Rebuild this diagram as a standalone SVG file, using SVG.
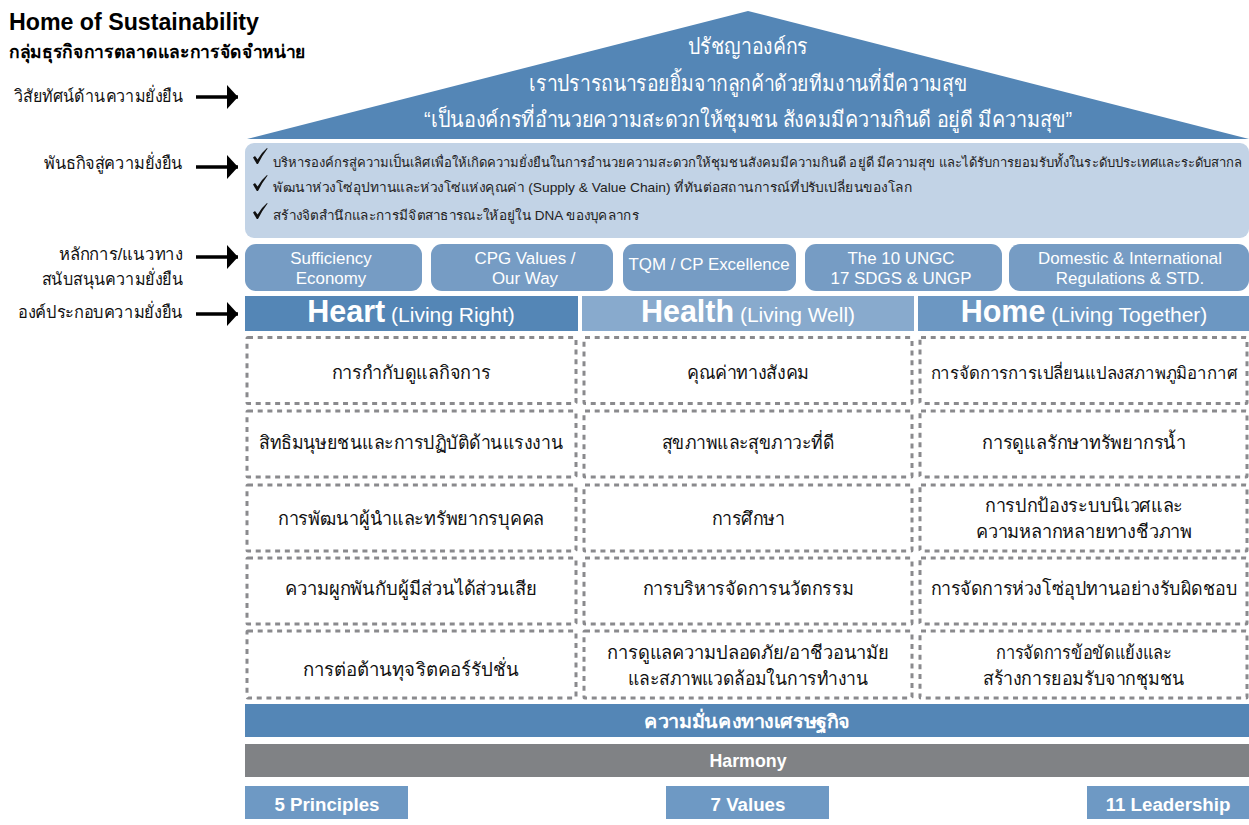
<svg xmlns="http://www.w3.org/2000/svg" width="1249" height="825" viewBox="0 0 1249 825">
<style>
text{font-family:"Liberation Sans","Noto Sans",sans-serif;}
.w{fill:#fff;text-anchor:middle}
.lab{fill:#111;font-size:17px;text-anchor:end}
.mis{fill:#222;font-size:13px}
.pill{fill:#769cc4}
.pt{fill:#fff;text-anchor:middle;font-size:16.9px}
.d{fill:#fff;stroke:#8a8a8d;stroke-width:3;stroke-dasharray:5 4.7}
.c{fill:#111;text-anchor:middle;font-size:18.5px}
.c2{font-size:17px}
.h{font-size:30.5px;font-weight:bold}
.s{font-size:21px}
.ar{stroke:#000;stroke-width:3.6;fill:none;marker-end:url(#ah)}
.bt{fill:#fff;text-anchor:middle;font-size:18.7px;font-weight:bold}
</style>
<defs>
<marker id="ah" markerUnits="userSpaceOnUse" markerWidth="12" markerHeight="26" refX="11" refY="13" orient="auto"><path d="M0 1L11 13L0 25Z" fill="#000"/></marker>
<path id="ck" d="M0 8.5L2 7L4.6 10.5Q8 4 14 -1L14.6 -.5Q9.500 6 5 15L3.800 15Z" fill="#111"/>
</defs>
<rect width="1249" height="825" fill="#fff"/>
<g id="title">
<text x="9" y="30" font-size="23.200" font-weight="bold" fill="#000">Home of Sustainability</text>
<text x="9" y="58" font-size="18" font-weight="bold" fill="#000" textLength="297" lengthAdjust="spacingAndGlyphs">กลุ่มธุรกิจการตลาดและการจัดจำหน่าย</text>
</g>
<g id="connectors">
<line class="ar" x1="196" y1="97" x2="238" y2="97"/>
<line class="ar" x1="196" y1="167" x2="238" y2="167"/>
<line class="ar" x1="196" y1="257" x2="238" y2="257"/>
<line class="ar" x1="196" y1="314" x2="238" y2="314"/>
</g>
<g id="labels">
<text class="lab" x="183" y="102" textLength="169" lengthAdjust="spacingAndGlyphs">วิสัยทัศน์ด้านความยั่งยืน</text>
<text class="lab" x="183" y="169" textLength="139" lengthAdjust="spacingAndGlyphs">พันธกิจสู่ความยั่งยืน</text>
<text class="lab" x="183" y="260" textLength="124" lengthAdjust="spacingAndGlyphs">หลักการ/แนวทาง</text>
<text class="lab" x="183" y="285" textLength="141" lengthAdjust="spacingAndGlyphs">สนับสนุนความยั่งยืน</text>
<text class="lab" x="183" y="318" textLength="165" lengthAdjust="spacingAndGlyphs">องค์ประกอบความยั่งยืน</text>
</g>
<g id="roof">
<polygon points="247,139 748,11 1249,139" fill="#5486b6"/>
<text class="w" x="748" y="54" font-size="22" textLength="120" lengthAdjust="spacingAndGlyphs">ปรัชญาองค์กร</text>
<text class="w" x="748" y="91" font-size="22" textLength="438" lengthAdjust="spacingAndGlyphs">เราปรารถนารอยยิ้มจากลูกค้าด้วยทีมงานที่มีความสุข</text>
<text class="w" x="748" y="127" font-size="22" textLength="648" lengthAdjust="spacingAndGlyphs">“เป็นองค์กรที่อำนวยความสะดวกให้ชุมชน สังคมมีความกินดี อยู่ดี มีความสุข”</text>
</g>
<g id="mission">
<rect x="245" y="143" width="1004" height="95" rx="9" fill="#c2d3e6"/>
<use href="#ck" x="253" y="149"/>
<use href="#ck" x="253" y="176"/>
<use href="#ck" x="253" y="204"/>
<text class="mis" x="273" y="167" textLength="969" lengthAdjust="spacingAndGlyphs">บริหารองค์กรสู่ความเป็นเลิศเพื่อให้เกิดความยั่งยืนในการอำนวยความสะดวกให้ชุมชนสังคมมีความกินดี อยู่ดี มีความสุข และได้รับการยอมรับทั้งในระดับประเทศและระดับสากล</text>
<text class="mis" x="273" y="192" textLength="639" lengthAdjust="spacingAndGlyphs">พัฒนาห่วงโซ่อุปทานและห่วงโซ่แห่งคุณค่า (Supply &amp; Value Chain) ที่ทันต่อสถานการณ์ที่ปรับเปลี่ยนของโลก</text>
<text class="mis" x="273" y="220" textLength="366" lengthAdjust="spacingAndGlyphs">สร้างจิตสำนึกและการมีจิตสาธารณะให้อยู่ใน DNA ของบุคลากร</text>
</g>
<g id="pill1"><rect class="pill" x="245" y="244" width="177" height="47" rx="11"/><text class="pt" x="331" y="264">Sufficiency</text><text class="pt" x="331" y="284">Economy</text></g>
<g id="pill2"><rect class="pill" x="431" y="244" width="182" height="47" rx="11"/><text class="pt" x="525" y="264">CPG Values /</text><text class="pt" x="525" y="284">Our Way</text></g>
<g id="pill3"><rect class="pill" x="623" y="244" width="173" height="47" rx="11"/><text class="pt" x="709" y="270">TQM / CP Excellence</text></g>
<g id="pill4"><rect class="pill" x="805" y="244" width="197" height="47" rx="11"/><text class="pt" x="901" y="264">The 10 UNGC</text><text class="pt" x="901" y="284">17 SDGS &amp; UNGP</text></g>
<g id="pill5"><rect class="pill" x="1009" y="244" width="240" height="47" rx="11"/><text class="pt" x="1130" y="264">Domestic &amp; International</text><text class="pt" x="1130" y="284">Regulations &amp; STD.</text></g>
<g id="col-heart"><rect x="245" y="296" width="333" height="35" fill="#5486b6"/><text class="w" x="411" y="322"><tspan class="h">Heart</tspan><tspan class="s"> (Living Right)</tspan></text></g>
<g id="col-health"><rect x="582" y="296" width="332" height="35" fill="#88aacd"/><text class="w" x="748" y="322"><tspan class="h">Health</tspan><tspan class="s"> (Living Well)</tspan></text></g>
<g id="col-home"><rect x="918" y="296" width="331" height="35" fill="#6c97c2"/><text class="w" x="1084" y="322"><tspan class="h">Home</tspan><tspan class="s"> (Living Together)</tspan></text></g>
<g id="heart-cells">
<rect class="d" x="247" y="337.500" width="329" height="66" rx="1"/><text class="c" x="411" y="379" textLength="159" lengthAdjust="spacingAndGlyphs">การกำกับดูแลกิจการ</text>
<rect class="d" x="247" y="411" width="329" height="66" rx="1"/><text class="c" x="411" y="449" textLength="304" lengthAdjust="spacingAndGlyphs">สิทธิมนุษยชนและการปฏิบัติด้านแรงงาน</text>
<rect class="d" x="247" y="485" width="329" height="66" rx="1"/><text class="c" x="411" y="525" textLength="266" lengthAdjust="spacingAndGlyphs">การพัฒนาผู้นำและทรัพยากรบุคคล</text>
<rect class="d" x="247" y="558" width="329" height="66" rx="1"/><text class="c" x="411" y="595" textLength="252" lengthAdjust="spacingAndGlyphs">ความผูกพันกับผู้มีส่วนได้ส่วนเสีย</text>
<rect class="d" x="247" y="631" width="329" height="67" rx="1"/><text class="c" x="411" y="676" textLength="216" lengthAdjust="spacingAndGlyphs">การต่อต้านทุจริตคอร์รัปชั่น</text>
</g>
<g id="health-cells">
<rect class="d" x="584" y="337.500" width="328" height="66" rx="1"/><text class="c" x="748" y="379" textLength="122" lengthAdjust="spacingAndGlyphs">คุณค่าทางสังคม</text>
<rect class="d" x="584" y="411" width="328" height="66" rx="1"/><text class="c" x="748" y="449" textLength="172" lengthAdjust="spacingAndGlyphs">สุขภาพและสุขภาวะที่ดี</text>
<rect class="d" x="584" y="485" width="328" height="66" rx="1"/><text class="c" x="748" y="525" textLength="73" lengthAdjust="spacingAndGlyphs">การศึกษา</text>
<rect class="d" x="584" y="558" width="328" height="66" rx="1"/><text class="c" x="748" y="595" textLength="211" lengthAdjust="spacingAndGlyphs">การบริหารจัดการนวัตกรรม</text>
<rect class="d" x="584" y="631" width="328" height="67" rx="1"/><text class="c" x="748" y="659" textLength="282" lengthAdjust="spacingAndGlyphs">การดูแลความปลอดภัย/อาชีวอนามัย</text><text class="c" x="748" y="685" textLength="240" lengthAdjust="spacingAndGlyphs">และสภาพแวดล้อมในการทำงาน</text>
</g>
<g id="home-cells">
<rect class="d" x="920" y="337.500" width="327" height="66" rx="1"/><text class="c c2" x="1084" y="379" textLength="307" lengthAdjust="spacingAndGlyphs">การจัดการการเปลี่ยนแปลงสภาพภูมิอากาศ</text>
<rect class="d" x="920" y="411" width="327" height="66" rx="1"/><text class="c" x="1084" y="449" textLength="204" lengthAdjust="spacingAndGlyphs">การดูแลรักษาทรัพยากรน้ำ</text>
<rect class="d" x="920" y="485" width="327" height="66" rx="1"/><text class="c" x="1084" y="512" textLength="198" lengthAdjust="spacingAndGlyphs">การปกป้องระบบนิเวศและ</text><text class="c" x="1084" y="538" textLength="216" lengthAdjust="spacingAndGlyphs">ความหลากหลายทางชีวภาพ</text>
<rect class="d" x="920" y="558" width="327" height="66" rx="1"/><text class="c" x="1084" y="595" textLength="307" lengthAdjust="spacingAndGlyphs">การจัดการห่วงโซ่อุปทานอย่างรับผิดชอบ</text>
<rect class="d" x="920" y="631" width="327" height="67" rx="1"/><text class="c" x="1084" y="659" textLength="176" lengthAdjust="spacingAndGlyphs">การจัดการข้อขัดแย้งและ</text><text class="c" x="1084" y="685" textLength="202" lengthAdjust="spacingAndGlyphs">สร้างการยอมรับจากชุมชน</text>
</g>
<g id="economy"><rect x="245" y="704" width="1004" height="33" fill="#5486b6"/><text class="bt" x="747" y="728" textLength="206" lengthAdjust="spacingAndGlyphs">ความมั่นคงทางเศรษฐกิจ</text></g>
<g id="harmony"><rect x="245" y="744" width="1004" height="33" fill="#808285"/><text class="bt" x="748" y="767" style="font-size:17.800px">Harmony</text></g>
<g id="principles"><rect x="245" y="786" width="163" height="33" fill="#6e99c4"/><text class="bt" x="327" y="811">5 Principles</text></g>
<g id="values"><rect x="666" y="786" width="163" height="33" fill="#6e99c4"/><text class="bt" x="748" y="811">7 Values</text></g>
<g id="leadership"><rect x="1087" y="786" width="162" height="33" fill="#6e99c4"/><text class="bt" x="1168" y="811">11 Leadership</text></g>
</svg>
